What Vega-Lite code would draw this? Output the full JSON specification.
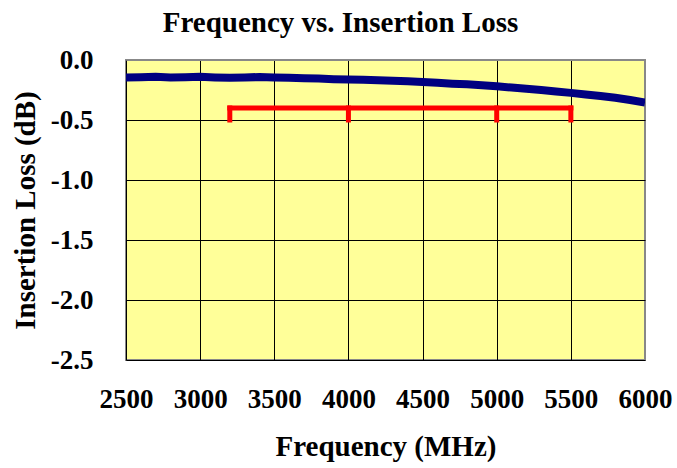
{
  "$schema": "https://vega.github.io/schema/vega-lite/v6.json",
  "width": 519,
  "height": 300,
  "autosize": "none",
  "padding": {"left": 126, "top": 60, "right": 32, "bottom": 108},
  "background": "white",
  "title": {
    "text": "Frequency vs. Insertion Loss",
    "font": "'Liberation Serif', 'Times New Roman', serif",
    "fontSize": 29,
    "fontWeight": "bold",
    "color": "black",
    "anchor": "middle",
    "dx": -45,
    "offset": 8
  },
  "datasets": {
    "loss": [
      {"freq": 2500, "loss": -0.145},
      {"freq": 2600, "loss": -0.143},
      {"freq": 2700, "loss": -0.14},
      {"freq": 2800, "loss": -0.145},
      {"freq": 2900, "loss": -0.143},
      {"freq": 3000, "loss": -0.14},
      {"freq": 3100, "loss": -0.145},
      {"freq": 3200, "loss": -0.148},
      {"freq": 3300, "loss": -0.145},
      {"freq": 3400, "loss": -0.142},
      {"freq": 3500, "loss": -0.145},
      {"freq": 3600, "loss": -0.147},
      {"freq": 3700, "loss": -0.152},
      {"freq": 3800, "loss": -0.155},
      {"freq": 3900, "loss": -0.16},
      {"freq": 4000, "loss": -0.163},
      {"freq": 4100, "loss": -0.165},
      {"freq": 4200, "loss": -0.168},
      {"freq": 4300, "loss": -0.172},
      {"freq": 4400, "loss": -0.177},
      {"freq": 4500, "loss": -0.183},
      {"freq": 4600, "loss": -0.19},
      {"freq": 4700, "loss": -0.197},
      {"freq": 4800, "loss": -0.203},
      {"freq": 4900, "loss": -0.21},
      {"freq": 5000, "loss": -0.218},
      {"freq": 5100, "loss": -0.23},
      {"freq": 5200, "loss": -0.24},
      {"freq": 5300, "loss": -0.25},
      {"freq": 5400, "loss": -0.262},
      {"freq": 5500, "loss": -0.274},
      {"freq": 5600, "loss": -0.287},
      {"freq": 5700, "loss": -0.3},
      {"freq": 5800, "loss": -0.315},
      {"freq": 5900, "loss": -0.333},
      {"freq": 6000, "loss": -0.355}
    ],
    "bracket": [
      {"x": 3200, "x2": 5500, "y": -0.4, "y2": -0.4},
      {"x": 3200, "x2": 3200, "y": -0.4, "y2": -0.5},
      {"x": 4000, "x2": 4000, "y": -0.4, "y2": -0.5},
      {"x": 5000, "x2": 5000, "y": -0.4, "y2": -0.5},
      {"x": 5500, "x2": 5500, "y": -0.4, "y2": -0.5}
    ]
  },
  "layer": [
    {
      "data": {"name": "loss"},
      "mark": {"type": "line", "color": "#000080", "strokeWidth": 8, "clip": true},
      "encoding": {
        "x": {
          "field": "freq",
          "type": "quantitative",
          "scale": {"domain": [2500, 6000], "nice": false, "zero": false},
          "axis": {
            "title": "Frequency (MHz)",
            "values": [2500, 3000, 3500, 4000, 4500, 5000, 5500, 6000],
            "format": "d",
            "domain": false,
            "ticks": false,
            "labelOverlap": false,
            "labelBound": false,
            "labelFlush": false,
            "labelPadding": 26,
            "titlePadding": 20,
            "gridColor": {"condition": {"test": "datum.value == 6000", "value": "#888888"}, "value": "black"},
            "gridOpacity": 1,
            "gridWidth": 1
          }
        },
        "y": {
          "field": "loss",
          "type": "quantitative",
          "scale": {"domain": [-2.5, 0], "nice": false, "zero": false},
          "axis": {
            "title": "Insertion Loss (dB)",
            "values": [-2.5, -2, -1.5, -1, -0.5, 0],
            "labelExpr": "replace(format(datum.value, '.1f'), '\u2212', '-')",
            "domain": false,
            "ticks": false,
            "labelOverlap": false,
            "labelPadding": 33,
            "titlePadding": 10,
            "gridColor": {"condition": {"test": "datum.value == 0", "value": "#888888"}, "value": "black"},
            "gridOpacity": 1,
            "gridWidth": 1
          }
        }
      }
    },
    {
      "data": {"name": "bracket"},
      "mark": {"type": "rule", "color": "#FF0000", "strokeWidth": 5, "strokeCap": "square"},
      "encoding": {
        "x": {"field": "x", "type": "quantitative"},
        "x2": {"field": "x2"},
        "y": {"field": "y", "type": "quantitative"},
        "y2": {"field": "y2"}
      }
    }
  ],
  "config": {
    "view": {"fill": "#FFFF99", "stroke": "#888888", "strokeWidth": 2},
    "axis": {
      "labelFont": "'Liberation Serif', 'Times New Roman', serif",
      "labelFontSize": 27,
      "labelFontWeight": "bold",
      "labelColor": "black",
      "titleFont": "'Liberation Serif', 'Times New Roman', serif",
      "titleFontSize": 29,
      "titleFontWeight": "bold",
      "titleColor": "black"
    }
  }
}
